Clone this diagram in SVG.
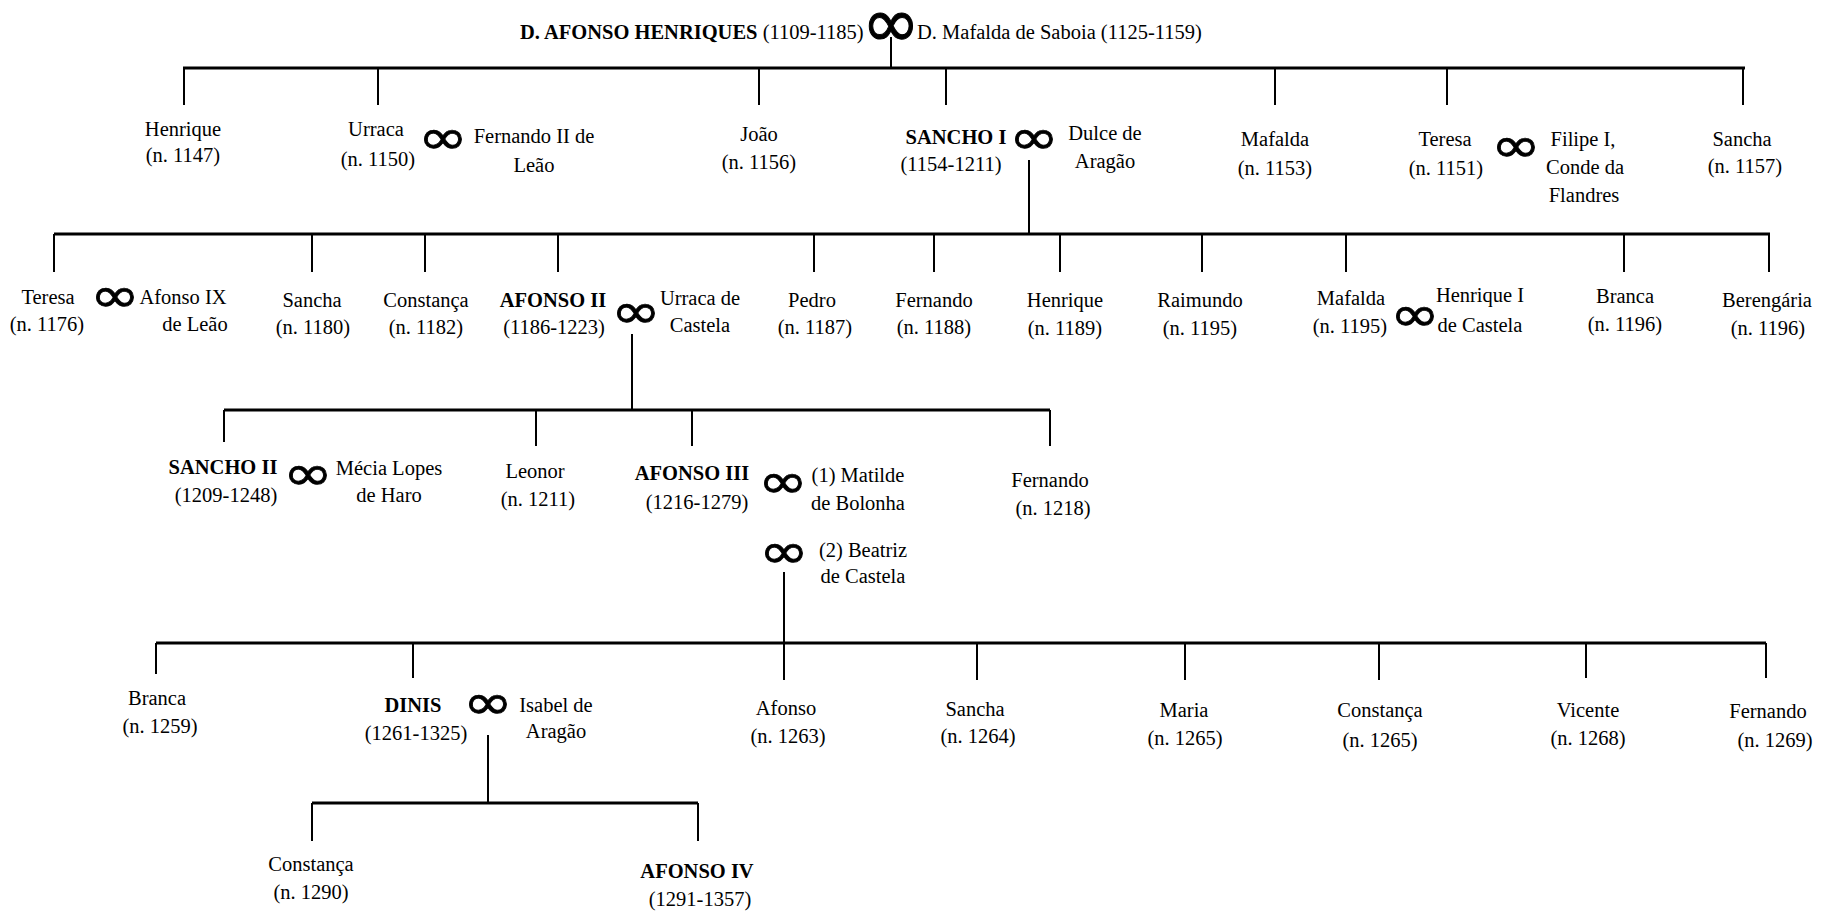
<svg xmlns="http://www.w3.org/2000/svg" width="1832" height="912" viewBox="0 0 1832 912">
<style>
text{font-family:"Liberation Serif","Times New Roman",serif;font-size:20.5px;fill:#000;text-anchor:middle}
.b{font-weight:bold}
.s{text-anchor:start}
.inf{font-family:"DejaVu Sans",sans-serif;font-size:60px;stroke:#000;stroke-width:0.9}
.infT{font-family:"DejaVu Sans",sans-serif;font-size:70px;stroke:#000;stroke-width:1}
.bar{stroke:#000;stroke-width:3;fill:none}
.v{stroke:#000;stroke-width:2;fill:none}
</style>
<rect width="1832" height="912" fill="#fff"/>
<g id="connectors">
<line class="v" x1="891" y1="37" x2="891" y2="68"/>
<line class="bar" x1="183" y1="68" x2="1745" y2="68"/>
<line class="v" x1="184" y1="68" x2="184" y2="105"/>
<line class="v" x1="378" y1="68" x2="378" y2="105"/>
<line class="v" x1="759" y1="68" x2="759" y2="105"/>
<line class="v" x1="946" y1="68" x2="946" y2="105"/>
<line class="v" x1="1275" y1="68" x2="1275" y2="105"/>
<line class="v" x1="1447" y1="68" x2="1447" y2="105"/>
<line class="v" x1="1743" y1="68" x2="1743" y2="105"/>
<line class="v" x1="1029" y1="160" x2="1029" y2="234"/>
<line class="bar" x1="54" y1="234" x2="1770" y2="234"/>
<line class="v" x1="54" y1="234" x2="54" y2="272"/>
<line class="v" x1="312" y1="234" x2="312" y2="272"/>
<line class="v" x1="425" y1="234" x2="425" y2="272"/>
<line class="v" x1="558" y1="234" x2="558" y2="272"/>
<line class="v" x1="814" y1="234" x2="814" y2="272"/>
<line class="v" x1="934" y1="234" x2="934" y2="272"/>
<line class="v" x1="1060" y1="234" x2="1060" y2="272"/>
<line class="v" x1="1202" y1="234" x2="1202" y2="272"/>
<line class="v" x1="1346" y1="234" x2="1346" y2="272"/>
<line class="v" x1="1624" y1="234" x2="1624" y2="272"/>
<line class="v" x1="1769" y1="234" x2="1769" y2="272"/>
<line class="v" x1="632" y1="334" x2="632" y2="410"/>
<line class="bar" x1="224" y1="410" x2="1050" y2="410"/>
<line class="v" x1="224" y1="410" x2="224" y2="442"/>
<line class="v" x1="536" y1="410" x2="536" y2="446"/>
<line class="v" x1="692" y1="410" x2="692" y2="446"/>
<line class="v" x1="1050" y1="410" x2="1050" y2="446"/>
<line class="v" x1="784" y1="572" x2="784" y2="643"/>
<line class="bar" x1="156" y1="643" x2="1766" y2="643"/>
<line class="v" x1="156" y1="643" x2="156" y2="674"/>
<line class="v" x1="413" y1="643" x2="413" y2="678"/>
<line class="v" x1="784" y1="643" x2="784" y2="680"/>
<line class="v" x1="977" y1="643" x2="977" y2="680"/>
<line class="v" x1="1185" y1="643" x2="1185" y2="680"/>
<line class="v" x1="1379" y1="643" x2="1379" y2="680"/>
<line class="v" x1="1586" y1="643" x2="1586" y2="678"/>
<line class="v" x1="1766" y1="643" x2="1766" y2="678"/>
<line class="v" x1="488" y1="735" x2="488" y2="803"/>
<line class="bar" x1="312" y1="803" x2="698" y2="803"/>
<line class="v" x1="312" y1="803" x2="312" y2="841"/>
<line class="v" x1="698" y1="803" x2="698" y2="841"/>
</g>
<g id="afonso-henriques">
<text class="s" x="520" y="39"><tspan class="b">D. AFONSO HENRIQUES</tspan> (1109-1185)</text>
<text class="infT" x="891" y="47">∞</text>
<text class="s" x="917" y="39">D. Mafalda de Saboia (1125-1159)</text>
</g>
<g id="henrique-1147"><text x="183" y="135.5">Henrique</text><text x="183" y="162">(n. 1147)</text></g>
<g id="urraca-1150">
<text x="376" y="136">Urraca</text><text x="378" y="166">(n. 1150)</text>
<text class="inf" transform="translate(443,137.5) scale(1,0.82)" x="0" y="20">∞</text>
<text x="534" y="143">Fernando II de</text><text x="534" y="172">Leão</text>
</g>
<g id="joao-1156"><text x="759" y="141">João</text><text x="759" y="169">(n. 1156)</text></g>
<g id="sancho-i">
<text class="b" x="956" y="144">SANCHO I</text><text x="951" y="171">(1154-1211)</text>
<text class="inf" transform="translate(1034,138) scale(1,0.82)" x="0" y="20">∞</text>
<text x="1105" y="140">Dulce de</text><text x="1105" y="168">Aragão</text>
</g>
<g id="mafalda-1153"><text x="1275" y="146">Mafalda</text><text x="1275" y="175">(n. 1153)</text></g>
<g id="teresa-1151">
<text x="1445" y="146">Teresa</text><text x="1446" y="175">(n. 1151)</text>
<text class="inf" transform="translate(1516,145.5) scale(1,0.82)" x="0" y="20">∞</text>
<text x="1583" y="146">Filipe I,</text><text x="1585" y="174">Conde da</text><text x="1584" y="202">Flandres</text>
</g>
<g id="sancha-1157"><text x="1742" y="146">Sancha</text><text x="1745" y="173">(n. 1157)</text></g>
<g id="teresa-1176">
<text x="48" y="304">Teresa</text><text x="47" y="331">(n. 1176)</text>
<text class="inf" transform="translate(115,295.5) scale(1,0.82)" x="0" y="20">∞</text>
<text x="183" y="304">Afonso IX</text><text x="195" y="331">de Leão</text>
</g>
<g id="sancha-1180"><text x="312" y="307">Sancha</text><text x="313" y="334">(n. 1180)</text></g>
<g id="constanca-1182"><text x="426" y="307">Constança</text><text x="426" y="334">(n. 1182)</text></g>
<g id="afonso-ii">
<text class="b" x="553" y="307">AFONSO II</text><text x="554" y="334">(1186-1223)</text>
<text class="inf" transform="translate(636,312) scale(1,0.82)" x="0" y="20">∞</text>
<text x="700" y="305">Urraca de</text><text x="700" y="332">Castela</text>
</g>
<g id="pedro-1187"><text x="812" y="307">Pedro</text><text x="815" y="334">(n. 1187)</text></g>
<g id="fernando-1188"><text x="934" y="307">Fernando</text><text x="934" y="334">(n. 1188)</text></g>
<g id="henrique-1189"><text x="1065" y="307">Henrique</text><text x="1065" y="335">(n. 1189)</text></g>
<g id="raimundo-1195"><text x="1200" y="307">Raimundo</text><text x="1200" y="335">(n. 1195)</text></g>
<g id="mafalda-1195">
<text x="1351" y="305">Mafalda</text><text x="1350" y="333">(n. 1195)</text>
<text class="inf" transform="translate(1415,315) scale(1,0.82)" x="0" y="20">∞</text>
<text x="1480" y="302">Henrique I</text><text x="1480" y="332">de Castela</text>
</g>
<g id="branca-1196"><text x="1625" y="303">Branca</text><text x="1625" y="331">(n. 1196)</text></g>
<g id="berengaria-1196"><text x="1767" y="307">Berengária</text><text x="1768" y="335">(n. 1196)</text></g>
<g id="sancho-ii">
<text class="b" x="223" y="474">SANCHO II</text><text x="226" y="502">(1209-1248)</text>
<text class="inf" transform="translate(308,474) scale(1,0.82)" x="0" y="20">∞</text>
<text x="389" y="475">Mécia Lopes</text><text x="389" y="502">de Haro</text>
</g>
<g id="leonor-1211"><text x="535" y="478">Leonor</text><text x="538" y="506">(n. 1211)</text></g>
<g id="afonso-iii">
<text class="b" x="692" y="480">AFONSO III</text><text x="697" y="509">(1216-1279)</text>
<text class="inf" transform="translate(783,482) scale(1,0.82)" x="0" y="20">∞</text>
<text x="858" y="482">(1) Matilde</text><text x="858" y="510">de Bolonha</text>
<text class="inf" transform="translate(784,552) scale(1,0.82)" x="0" y="20">∞</text>
<text x="863" y="557">(2) Beatriz</text><text x="863" y="583">de Castela</text>
</g>
<g id="fernando-1218"><text x="1050" y="487">Fernando</text><text x="1053" y="515">(n. 1218)</text></g>
<g id="branca-1259"><text x="157" y="705">Branca</text><text x="160" y="733">(n. 1259)</text></g>
<g id="dinis">
<text class="b" x="413" y="712">DINIS</text><text x="416" y="740">(1261-1325)</text>
<text class="inf" transform="translate(488,703) scale(1,0.82)" x="0" y="20">∞</text>
<text x="556" y="712">Isabel de</text><text x="556" y="738">Aragão</text>
</g>
<g id="afonso-1263"><text x="786" y="715">Afonso</text><text x="788" y="743">(n. 1263)</text></g>
<g id="sancha-1264"><text x="975" y="716">Sancha</text><text x="978" y="743">(n. 1264)</text></g>
<g id="maria-1265"><text x="1184" y="717">Maria</text><text x="1185" y="745">(n. 1265)</text></g>
<g id="constanca-1265"><text x="1380" y="717">Constança</text><text x="1380" y="747">(n. 1265)</text></g>
<g id="vicente-1268"><text x="1588" y="717">Vicente</text><text x="1588" y="745">(n. 1268)</text></g>
<g id="fernando-1269"><text x="1768" y="718">Fernando</text><text x="1775" y="747">(n. 1269)</text></g>
<g id="constanca-1290"><text x="311" y="871">Constança</text><text x="311" y="899">(n. 1290)</text></g>
<g id="afonso-iv"><text class="b" x="697" y="878">AFONSO IV</text><text x="700" y="906">(1291-1357)</text></g>
</svg>
